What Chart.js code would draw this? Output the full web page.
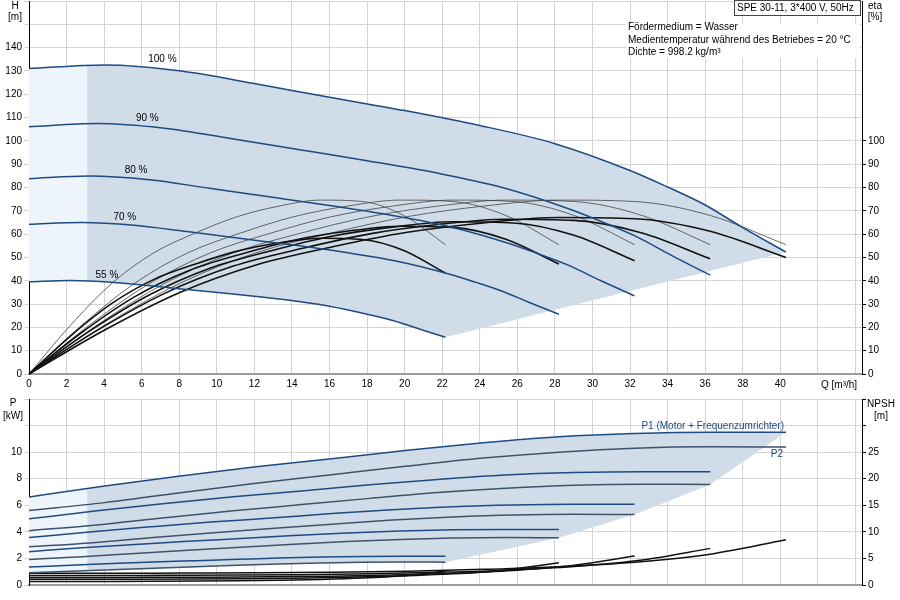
<!DOCTYPE html>
<html>
<head>
<meta charset="utf-8">
<script src="https://cdn.jsdelivr.net/npm/chart.js@4.4.1/dist/chart.umd.min.js"></script>
<style>
  html, body { margin: 0; padding: 0; background: #fff; }
  #rahmen { position: relative; width: 900px; height: 600px; }
  #oben { position: absolute; left: 0; top: 0; }
  #unten { position: absolute; left: 0; top: 395px; }
</style>
</head>
<body>
<div id="rahmen">
  <canvas id="oben" width="900" height="395"></canvas>
  <canvas id="unten" width="900" height="205"></canvas>
</div>
<script>
// Drehzahlen und Beschriftung der Kennlinien
const drehzahlen = ["100 %", "90 %", "80 %", "70 %", "55 %"];
const labelQ = [7.1, 6.3, 5.7, 5.1, 4.15];
const labelH = [135.0, 109.9, 87.5, 67.3, 42.5];

// Förderhöhe H [m] je Drehzahl
const qH100 = [0, 4, 8, 12, 16, 20, 24, 28, 32, 34, 36, 38, 40.3];
const h100 = [131, 132.6, 130.1, 124.6, 118.7, 113, 106.6, 98.8, 87.3, 80.2, 72.5, 62.8, 52.3];
const qH90 = [0, 3.6, 7.2, 10.8, 14.4, 18, 21.6, 25.2, 28.8, 30.6, 32.4, 34.2, 36.27];
const h90 = [106.1, 107.4, 105.4, 100.9, 96.2, 91.5, 86.4, 80.0, 70.7, 65.0, 58.7, 50.9, 42.4];
const qH80 = [0, 3.2, 6.4, 9.6, 12.8, 16, 19.2, 22.4, 25.6, 27.2, 28.8, 30.4, 32.24];
const h80 = [83.8, 84.9, 83.3, 79.7, 76.0, 72.3, 68.2, 63.2, 55.9, 51.3, 46.4, 40.2, 33.5];
const qH70 = [0, 2.8, 5.6, 8.4, 11.2, 14, 16.8, 19.6, 22.4, 23.8, 25.2, 26.6, 28.21];
const h70 = [64.2, 65.0, 63.8, 61.1, 58.2, 55.4, 52.2, 48.4, 42.8, 39.3, 35.5, 30.8, 25.6];
const qH55 = [0, 2.2, 4.4, 6.6, 8.8, 11, 13.2, 15.4, 17.6, 18.7, 19.8, 20.9, 22.17];
const h55 = [39.6, 40.1, 39.4, 37.7, 35.9, 34.2, 32.3, 29.9, 26.4, 24.3, 21.9, 19.0, 15.8];

// Q-Stützstellen für eta, P und NPSH je Drehzahl
const q100 = [0, 4.03, 8.06, 12.09, 16.12, 20.15, 24.18, 28.21, 32.24, 36.27, 40.3];
const q90 = [0, 3.63, 7.25, 10.88, 14.51, 18.14, 21.76, 25.39, 29.02, 32.64, 36.27];
const q80 = [0, 3.22, 6.45, 9.67, 12.9, 16.12, 19.34, 22.57, 25.79, 29.02, 32.24];
const q70 = [0, 2.82, 5.64, 8.46, 11.28, 14.11, 16.93, 19.75, 22.57, 25.39, 28.21];
const q55 = [0, 2.22, 4.43, 6.65, 8.87, 11.09, 13.3, 15.52, 17.74, 19.95, 22.17];

// Wirkungsgrad eta [%]: Pumpe (dünn) und gesamt (dick)
const etaPumpe = [0, 21, 39, 52, 60.5, 67.5, 72, 74.6, 74, 68, 55.5];
const etaGes100 = [0, 18.9, 35.1, 46.8, 54.5, 60.8, 64.8, 67.1, 66.6, 61.2, 50];
const etaGes90 = [0, 18.7, 34.7, 46.3, 53.8, 60.1, 64.1, 66.4, 65.9, 60.5, 49.4];
const etaGes80 = [0, 18.4, 34.1, 45.5, 52.9, 59.1, 63, 65.3, 64.8, 59.5, 48.6];
const etaGes70 = [0, 17.9, 33.2, 44.2, 51.4, 57.4, 61.2, 63.4, 62.9, 57.8, 47.2];
const etaGes55 = [0, 16.4, 30.4, 40.6, 47.2, 52.7, 56.2, 58.2, 57.7, 53, 43.3];

// Leistung P1 (Motor + FU) und P2 [kW]
const p1_100 = [6.62, 7.45, 8.2, 8.9, 9.5, 10.15, 10.7, 11.15, 11.4, 11.5, 11.5];
const p1_90 = [4.98, 5.58, 6.13, 6.64, 7.08, 7.55, 7.95, 8.28, 8.46, 8.53, 8.53];
const p1_80 = [3.57, 3.99, 4.38, 4.74, 5.04, 5.38, 5.66, 5.89, 6.02, 6.07, 6.07];
const p1_70 = [2.51, 2.8, 3.05, 3.29, 3.5, 3.72, 3.91, 4.06, 4.15, 4.18, 4.18];
const p1_55 = [1.35, 1.49, 1.61, 1.73, 1.83, 1.93, 2.03, 2.1, 2.14, 2.16, 2.16];
const p2_100 = [5.61, 6.2, 6.95, 7.65, 8.3, 8.95, 9.55, 10.0, 10.3, 10.4, 10.38];
const p2_90 = [4.09, 4.52, 5.07, 5.58, 6.05, 6.52, 6.96, 7.29, 7.51, 7.58, 7.57];
const p2_80 = [2.87, 3.17, 3.56, 3.92, 4.25, 4.58, 4.89, 5.12, 5.27, 5.32, 5.31];
const p2_70 = [1.92, 2.13, 2.38, 2.62, 2.85, 3.07, 3.28, 3.43, 3.53, 3.57, 3.56];
const p2_55 = [0.93, 1.03, 1.15, 1.27, 1.38, 1.49, 1.59, 1.66, 1.71, 1.73, 1.72];

// NPSH [m]
const npsh100 = [2.2, 2.2, 2.25, 2.3, 2.4, 2.6, 2.95, 3.45, 4.3, 5.8, 8.5];
const npsh90 = [1.78, 1.78, 1.82, 1.86, 1.94, 2.11, 2.39, 2.79, 3.48, 4.7, 6.89];
const npsh80 = [1.41, 1.41, 1.44, 1.47, 1.54, 1.66, 1.89, 2.21, 2.75, 3.71, 5.44];
const npsh70 = [1.08, 1.08, 1.1, 1.13, 1.18, 1.27, 1.45, 1.69, 2.11, 2.84, 4.17];
const npsh55 = [0.67, 0.67, 0.68, 0.7, 0.73, 0.79, 0.89, 1.04, 1.3, 1.75, 2.57];

// heller Bereich links (kleine Förderströme)
const hellQ = [0, 3.1, 3.1, 0];
const hellH = [131, 132.5, 40.0, 39.6];
const hellP = [6.62, 7.33, 1.0, 0.93];

const schrift = '"Liberation Sans", Arial, sans-serif';
Chart.defaults.font.family = schrift;
Chart.defaults.font.size = 10;
Chart.defaults.color = "#000";

const gitter = "#d4d4d4";
const blau = "#1d4b82";
const blauGrau = "#3e5268";
const flaeche = "#d0dde8";
const flaecheHell = "#edf4fb";

function punkte(xs, ys) {
  return xs.map((x, i) => ({ x: x, y: ys[i] }));
}

function linie(xs, ys, farbe, breite, achse, ordnung) {
  return {
    data: punkte(xs, ys),
    borderColor: farbe,
    borderWidth: breite,
    pointRadius: 0,
    fill: false,
    yAxisID: achse,
    cubicInterpolationMode: "monotone",
    order: ordnung
  };
}

function polygon(pts, farbe, ordnung) {
  return {
    data: pts,
    borderColor: "rgba(0,0,0,0)",
    borderWidth: 0,
    backgroundColor: farbe,
    pointRadius: 0,
    fill: "shape",
    tension: 0,
    yAxisID: "y",
    order: ordnung
  };
}

// feste Achsgrößen, ohne Zusatzabstand für halbe Beschriftungen
function festeBreite(breite) {
  return (s) => {
    s.width = breite;
    s.paddingTop = 0;
    s.paddingBottom = 0;
  };
}

const xAchse = (mitText, hoehe) => ({
  type: "linear",
  min: 0,
  max: 44.35,
  ticks: {
    display: mitText,
    stepSize: 2,
    includeBounds: false,
    maxRotation: 0,
    autoSkip: false,
    padding: 4,
    callback: (v) => (v <= 40 ? v : "")
  },
  grid: { color: gitter, drawTicks: false },
  border: { color: "#9c9c9c", width: 2 },
  afterFit: (s) => {
    s.height = hoehe;
    s.paddingLeft = 0;
    s.paddingRight = 0;
  }
});

// ---------- oberes Diagramm: H und eta ----------
const hoheFlaeche = punkte(qH100, h100).concat(punkte(qH55, h55).reverse());

const datenOben = [
  linie(qH100, h100, blau, 1.5, "y", 1),
  linie(qH90, h90, blau, 1.5, "y", 1),
  linie(qH80, h80, blau, 1.5, "y", 1),
  linie(qH70, h70, blau, 1.5, "y", 1),
  linie(qH55, h55, blau, 1.5, "y", 1),
  linie(q100, etaGes100, "#111", 1.6, "y2", 2),
  linie(q90, etaGes90, "#111", 1.6, "y2", 2),
  linie(q80, etaGes80, "#111", 1.6, "y2", 2),
  linie(q70, etaGes70, "#111", 1.6, "y2", 2),
  linie(q55, etaGes55, "#111", 1.6, "y2", 2),
  linie(q100, etaPumpe, "#444", 0.8, "y2", 3),
  linie(q90, etaPumpe, "#444", 0.8, "y2", 3),
  linie(q80, etaPumpe, "#444", 0.8, "y2", 3),
  linie(q70, etaPumpe, "#444", 0.8, "y2", 3),
  linie(q55, etaPumpe, "#444", 0.8, "y2", 3),
  polygon(punkte(hellQ, hellH), flaecheHell, 9),
  polygon(hoheFlaeche, flaeche, 10)
];

const textOben = {
  id: "textOben",
  afterDraw(chart) {
    const c = chart.ctx;
    const sx = chart.scales.x;
    const sy = chart.scales.y;
    c.save();
    c.font = "10px " + schrift;
    c.fillStyle = "#000";
    c.textAlign = "center";
    c.textBaseline = "middle";
    c.fillText("H", 15, 6);
    c.fillText("[m]", 15, 17);
    c.fillText("eta", 875, 6);
    c.fillText("[%]", 875, 17);
    drehzahlen.forEach((t, i) => {
      c.fillText(t, sx.getPixelForValue(labelQ[i]), sy.getPixelForValue(labelH[i]));
    });
    c.textAlign = "left";
    c.fillText("Q [m³/h]", 821, 385);

    c.fillStyle = "#fff";
    c.fillRect(626, 24, 234, 34);
    c.fillStyle = "#000";
    c.fillText("Fördermedium = Wasser", 628, 27);
    c.fillText("Medientemperatur während des Betriebes = 20 °C", 628, 40);
    c.fillText("Dichte = 998.2 kg/m³", 628, 52);

    c.fillStyle = "#fff";
    c.fillRect(734, 0, 127, 15);
    c.strokeStyle = "#444";
    c.lineWidth = 1;
    c.strokeRect(734.5, 0.5, 126, 15);
    c.fillStyle = "#000";
    c.fillText("SPE 30-11, 3*400 V, 50Hz", 737, 8);
    c.restore();
  }
};

new Chart(document.getElementById("oben"), {
  type: "line",
  data: { datasets: datenOben },
  options: {
    responsive: false,
    animation: false,
    layout: { padding: { top: 1, left: 0, right: 0, bottom: 0 } },
    plugins: { legend: { display: false }, tooltip: { enabled: false } },
    scales: {
      x: xAchse(true, 21),
      y: {
        position: "left",
        min: 0,
        max: 160,
        ticks: { stepSize: 10, padding: 2, callback: (v) => (v <= 140 ? v : "") },
        grid: { color: gitter, tickLength: 5 },
        border: { color: "#000", width: 1 },
        afterFit: festeBreite(29)
      },
      y2: {
        position: "right",
        min: 0,
        max: 160,
        ticks: { stepSize: 10, padding: 2, callback: (v) => (v <= 100 ? v : "") },
        grid: {
          drawOnChartArea: false,
          tickLength: 4,
          tickColor: (ctx) => (ctx.tick && ctx.tick.value > 100 ? "rgba(0,0,0,0)" : "#000")
        },
        border: { color: "#000", width: 1 },
        afterFit: festeBreite(38)
      }
    }
  },
  plugins: [textOben]
});

// ---------- unteres Diagramm: P und NPSH ----------
const leistungsFlaeche = punkte(q100, p1_100)
  .concat([
    { x: q90[10], y: p2_90[10] },
    { x: q80[10], y: p2_80[10] },
    { x: q70[10], y: p2_70[10] }
  ])
  .concat(punkte(q55, p2_55).reverse());

const datenUnten = [
  linie(q100, p1_100, blau, 1.5, "y", 1),
  linie(q90, p1_90, blau, 1.5, "y", 1),
  linie(q80, p1_80, blau, 1.5, "y", 1),
  linie(q70, p1_70, blau, 1.5, "y", 1),
  linie(q55, p1_55, blau, 1.5, "y", 1),
  linie(q100, p2_100, blauGrau, 1.5, "y", 1),
  linie(q90, p2_90, blauGrau, 1.5, "y", 1),
  linie(q80, p2_80, blauGrau, 1.5, "y", 1),
  linie(q70, p2_70, blauGrau, 1.5, "y", 1),
  linie(q55, p2_55, blauGrau, 1.5, "y", 1),
  linie(q100, npsh100, "#111", 1.5, "y2", 2),
  linie(q90, npsh90, "#111", 1.5, "y2", 2),
  linie(q80, npsh80, "#111", 1.5, "y2", 2),
  linie(q70, npsh70, "#111", 1.5, "y2", 2),
  linie(q55, npsh55, "#111", 1.5, "y2", 2),
  polygon(punkte(hellQ, hellP), flaecheHell, 9),
  polygon(leistungsFlaeche, flaeche, 10)
];

const textUnten = {
  id: "textUnten",
  afterDraw(chart) {
    const c = chart.ctx;
    c.save();
    c.font = "10px " + schrift;
    c.fillStyle = "#000";
    c.textAlign = "center";
    c.textBaseline = "middle";
    c.fillText("P", 13, 8);
    c.fillText("[kW]", 13, 21);
    c.fillText("NPSH", 881, 9);
    c.fillText("[m]", 881, 21);
    c.fillStyle = blau;
    c.textAlign = "right";
    c.fillText("P1 (Motor + Frequenzumrichter)", 784, 31);
    c.fillText("P2", 783, 59);
    c.restore();
  }
};

new Chart(document.getElementById("unten"), {
  type: "line",
  data: { datasets: datenUnten },
  options: {
    responsive: false,
    animation: false,
    layout: { padding: { top: 4, left: 0, right: 0, bottom: 0 } },
    plugins: { legend: { display: false }, tooltip: { enabled: false } },
    scales: {
      x: xAchse(false, 15),
      y: {
        position: "left",
        min: 0,
        max: 14,
        ticks: { stepSize: 2, padding: 2, callback: (v) => (v <= 10 ? v : "") },
        grid: { color: gitter, tickLength: 5 },
        border: { color: "#000", width: 1 },
        afterFit: festeBreite(29)
      },
      y2: {
        position: "right",
        min: 0,
        max: 35,
        ticks: { stepSize: 5, padding: 2, callback: (v) => (v <= 25 ? v : "") },
        grid: { drawOnChartArea: false, tickLength: 4, tickColor: "#000" },
        border: { color: "#000", width: 1 },
        afterFit: festeBreite(38)
      }
    }
  },
  plugins: [textUnten]
});
</script>
</body>
</html>
